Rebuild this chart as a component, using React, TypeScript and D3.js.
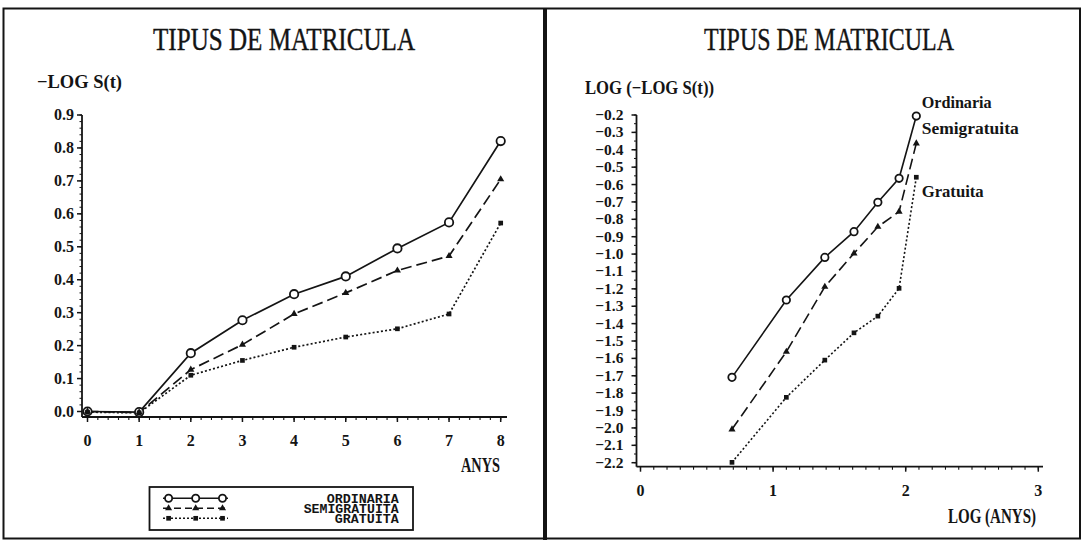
import React from "react";
import * as d3 from "d3";

// Left panel: -log S(t) against years
const anys = [0, 1, 2, 3, 4, 5, 6, 7, 8];
const ordinaria = [0.0, -0.002, 0.177, 0.277, 0.356, 0.41, 0.495, 0.574, 0.821];
const semigratuita = [0.0, -0.003, 0.127, 0.203, 0.296, 0.36, 0.428, 0.472, 0.705];
const gratuita = [-0.002, -0.004, 0.11, 0.155, 0.195, 0.226, 0.251, 0.296, 0.572];

// Right panel: log(-log S(t)) against log(years)
const logAnys = [0.69, 1.1, 1.39, 1.61, 1.79, 1.95, 2.08];
const logOrdinaria = [-1.709, -1.264, -1.019, -0.871, -0.702, -0.564, -0.206];
const logSemigratuita = [-2.008, -1.562, -1.188, -0.996, -0.843, -0.756, -0.363];
const logGratuita = [-2.198, -1.824, -1.61, -1.453, -1.357, -1.197, -0.558];

const leftYTicks = [0, 0.1, 0.2, 0.3, 0.4, 0.5, 0.6, 0.7, 0.8, 0.9];
const rightYTicks = d3.range(0, 21).map((i) => -2.2 + i * 0.1);
const rightXTicks = [0, 1, 2, 3];

const seriesNames = ["ORDINARIA", "SEMIGRATUITA", "GRATUITA"];
const seriesLabels = ["Ordinaria", "Semigratuita", "Gratuita"];

const INK = "#141414";
const SERIF = "'Liberation Serif', 'DejaVu Serif', serif";
const MONO = "'Liberation Mono', 'DejaVu Sans Mono', monospace";

const dashes = [undefined, "11,5", "2,2.2"];

function Marker({ kind, x, y, r = 4 }: { kind: number; x: number; y: number; r?: number }) {
  if (kind === 0)
    return <circle cx={x} cy={y} r={r} fill="white" stroke={INK} strokeWidth={1.8} />;
  if (kind === 1)
    return <path d={d3.symbol(d3.symbolTriangle, 22)() as string} transform={`translate(${x},${y})`} fill={INK} />;
  return <path d={d3.symbol(d3.symbolSquare, 22)() as string} transform={`translate(${x},${y})`} fill={INK} />;
}

function fmt(v: number) {
  const s = Math.abs(v).toFixed(1);
  return v < -1e-9 ? "\u2212" + s : s;
}

export default function App() {
  // scales
  const xL = d3.scaleLinear().domain([0, 8]).range([87.5, 500.7]);
  const yL = d3.scaleLinear().domain([0, 0.9]).range([411.5, 115]);
  const xR = d3.scaleLinear().domain([0, 3]).range([640.5, 1038.3]);
  const yR = d3.scaleLinear().domain([-2.2, -0.2]).range([462.7, 115]);

  const leftSeries = [ordinaria, semigratuita, gratuita];
  const rightSeries = [logOrdinaria, logSemigratuita, logGratuita];

  const lineL = d3.line<number>().x((_, i) => xL(anys[i])).y((d) => yL(d));
  const lineR = d3.line<number>().x((_, i) => xR(logAnys[i])).y((d) => yR(d));

  // axis geometry
  const axL = { x: 82, y: 417, xEnd: 507 };
  const axR = { x: 636.5, y: 466.7, xEnd: 1043 };

  const leftXMinor = d3.range(0, 40.5).map((i) => i * 0.2);
  const leftYMinor = d3.range(0, 45.5).map((i) => i * 0.02);
  const rightXMinor = d3.range(0, 30.5).map((i) => i * 0.1);
  const rightYMinor = d3.range(0, 40.5).map((i) => -2.2 + i * 0.05);

  const legendRows = [498.3, 508.3, 518.3];
  const legendMarks = [168.6, 195.7, 222.5];
  const legendWidths = [72, 95, 64];

  const labelPos = [
    { y: 103, w: 70 },
    { y: 129, w: 97 },
    { y: 191.7, w: 62 },
  ];

  return (
    <svg
      width={1084}
      height={543}
      style={{ position: "fixed", left: 0, top: 0, background: "white" }}
      fontFamily={SERIF}
    >
      <rect x={0} y={0} width={1084} height={543} fill="white" />
      {/* frames */}
      <rect x={3.5} y={8.5} width={1076.5} height={530} fill="none" stroke={INK} strokeWidth={2} />
      <line x1={545} x2={545} y1={8} y2={540} stroke={INK} strokeWidth={4} />

      {/* ---------- left panel ---------- */}
      <text x={284} y={50} textAnchor="middle" fontSize={32} textLength={262} lengthAdjust="spacingAndGlyphs" fill={INK} stroke={INK} strokeWidth={0.4}>
        TIPUS DE MATRICULA
      </text>
      <text x={37} y={88} fontSize={19} fontWeight="bold" textLength={85} lengthAdjust="spacingAndGlyphs" fill={INK}>
        −LOG S(t)
      </text>

      <line x1={axL.x} x2={axL.x} y1={yL(0.9)} y2={axL.y} stroke={INK} strokeWidth={1.8} />
      <line x1={axL.x} x2={axL.xEnd} y1={axL.y} y2={axL.y} stroke={INK} strokeWidth={1.8} />
      {leftYMinor.map((v, i) => (
        <line key={"lym" + i} x1={axL.x - 2.5} x2={axL.x} y1={yL(v)} y2={yL(v)} stroke={INK} strokeWidth={1} />
      ))}
      {leftYTicks.map((v) => (
        <g key={"lyt" + v}>
          <line x1={axL.x - 5} x2={axL.x} y1={yL(v)} y2={yL(v)} stroke={INK} strokeWidth={1.5} />
          <text x={axL.x - 8} y={yL(v) + 5} textAnchor="end" fontSize={16} fontWeight="bold" fill={INK}>
            {fmt(v)}
          </text>
        </g>
      ))}
      {leftXMinor.map((v, i) => (
        <line key={"lxm" + i} x1={xL(v)} x2={xL(v)} y1={axL.y} y2={axL.y + 3} stroke={INK} strokeWidth={1.1} />
      ))}
      {anys.map((v) => (
        <g key={"lxt" + v}>
          <line x1={xL(v)} x2={xL(v)} y1={axL.y} y2={axL.y + 5} stroke={INK} strokeWidth={1.5} />
          <text x={xL(v)} y={445.5} textAnchor="middle" fontSize={16} fontWeight="bold" fill={INK}>
            {v}
          </text>
        </g>
      ))}
      <text x={461} y={472} fontSize={21} fontWeight="bold" textLength={39} lengthAdjust="spacingAndGlyphs" fill={INK}>
        ANYS
      </text>

      {leftSeries.map((s, k) => (
        <path key={"ll" + k} d={lineL(s) as string} fill="none" stroke={INK} strokeWidth={1.7} strokeDasharray={dashes[k]} />
      ))}
      {leftSeries.map((s, k) =>
        s.map((v, i) => <Marker key={`lm${k}-${i}`} kind={k} x={xL(anys[i])} y={yL(v)} r={4.2} />)
      )}

      {/* legend */}
      <rect x={149.5} y={487} width={263.5} height={43} fill="none" stroke={INK} strokeWidth={1.8} />
      {seriesNames.map((name, k) => (
        <g key={"leg" + k}>
          <line x1={163} x2={228} y1={legendRows[k]} y2={legendRows[k]} stroke={INK} strokeWidth={1.5} strokeDasharray={k === 1 ? "7,4" : k === 2 ? "2,2" : undefined} />
          {legendMarks.map((mx, j) => (
            <Marker key={j} kind={k} x={mx} y={legendRows[k]} r={3.6} />
          ))}
          <text
            x={398.7}
            y={legendRows[k] + 4.5}
            textAnchor="end"
            fontFamily={MONO}
            fontWeight="bold"
            fontSize={13}
            textLength={legendWidths[k]}
            lengthAdjust="spacingAndGlyphs"
            fill={INK}
          >
            {name}
          </text>
        </g>
      ))}

      {/* ---------- right panel ---------- */}
      <text x={829} y={50} textAnchor="middle" fontSize={32} textLength={250} lengthAdjust="spacingAndGlyphs" fill={INK} stroke={INK} strokeWidth={0.4}>
        TIPUS DE MATRICULA
      </text>
      <text x={585} y={94} fontSize={19} fontWeight="bold" textLength={129} lengthAdjust="spacingAndGlyphs" fill={INK}>
        LOG (−LOG S(t))
      </text>

      <line x1={axR.x} x2={axR.x} y1={yR(-0.2)} y2={axR.y} stroke={INK} strokeWidth={1.8} />
      <line x1={axR.x} x2={axR.xEnd} y1={axR.y} y2={axR.y} stroke={INK} strokeWidth={1.8} />
      {rightYMinor.map((v, i) => (
        <line key={"rym" + i} x1={axR.x - 2.5} x2={axR.x} y1={yR(v)} y2={yR(v)} stroke={INK} strokeWidth={1} />
      ))}
      {rightYTicks.map((v, i) => (
        <g key={"ryt" + i}>
          <line x1={axR.x - 5} x2={axR.x} y1={yR(v)} y2={yR(v)} stroke={INK} strokeWidth={1.5} />
          <text x={axR.x - 13} y={yR(v) + 5} textAnchor="end" fontSize={15.5} fontWeight="bold" fill={INK}>
            {fmt(v)}
          </text>
        </g>
      ))}
      {rightXMinor.map((v, i) => (
        <line key={"rxm" + i} x1={xR(v)} x2={xR(v)} y1={axR.y} y2={axR.y + 3} stroke={INK} strokeWidth={1.1} />
      ))}
      {rightXTicks.map((v) => (
        <g key={"rxt" + v}>
          <line x1={xR(v)} x2={xR(v)} y1={axR.y} y2={axR.y + 5} stroke={INK} strokeWidth={1.5} />
          <text x={xR(v)} y={495.5} textAnchor="middle" fontSize={16} fontWeight="bold" fill={INK}>
            {v}
          </text>
        </g>
      ))}
      <text x={948} y={523} fontSize={21} fontWeight="bold" textLength={88} lengthAdjust="spacingAndGlyphs" fill={INK}>
        LOG (ANYS)
      </text>

      {rightSeries.map((s, k) => (
        <path key={"rl" + k} d={lineR(s) as string} fill="none" stroke={INK} strokeWidth={1.6} strokeDasharray={dashes[k]} />
      ))}
      {rightSeries.map((s, k) =>
        s.map((v, i) => <Marker key={`rm${k}-${i}`} kind={k} x={xR(logAnys[i])} y={yR(v)} r={3.7} />)
      )}
      {seriesLabels.map((lab, k) => (
        <text
          key={"rlab" + k}
          x={921.7}
          y={labelPos[k].y + 5}
          fontSize={16}
          fontWeight="bold"
          textLength={labelPos[k].w}
          lengthAdjust="spacingAndGlyphs"
          fill={INK}
        >
          {lab}
        </text>
      ))}
    </svg>
  );
}
